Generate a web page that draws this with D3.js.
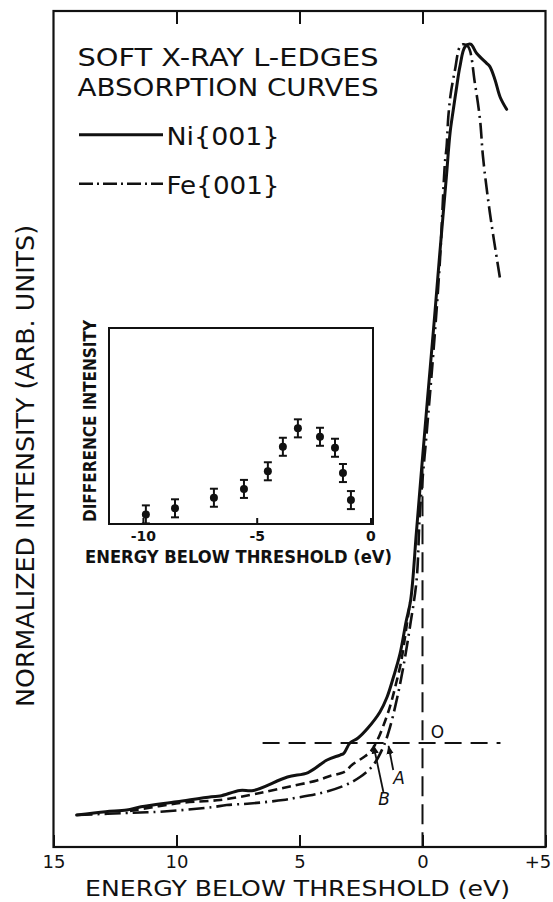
<!DOCTYPE html>
<html><head><meta charset="utf-8">
<script src="https://cdn.jsdelivr.net/npm/d3@7"></script>
<style>body{margin:0;background:#fff}svg{display:block}</style>
</head><body>
<svg id="c" width="553" height="902"></svg>
<script>
// ---------- data ----------
const xTickValues = [15, 10, 5, 0, -5];
const xTickLabels = ["15", "10", "5", "0", "+5"];
const titleLines = ["SOFT X-RAY L-EDGES", "ABSORPTION CURVES"];
const legendLabels = ["Ni{001}", "Fe{001}"];

// Ni{001} absorption (solid)
const niEnergy = [14.06,12.88,12.02,11.44,9.99,8.58,8.23,7.42,6.87,5.49,4.65,3.88,3.35,3.20,2.95,2.62,2.22,1.73,1.44,1.18,0.91,0.67,0.48,0.25,0.05,-0.20,-0.47,-0.69,-0.83,-0.97,-1.12,-1.25,-1.39,-1.52,-1.73,-1.96,-2.20,-2.61,-2.74,-2.95,-3.15,-3.42];
const niIntensity = [3.83,4.22,4.43,4.82,5.42,6.02,6.10,6.76,6.76,8.37,8.91,10.41,11.0,11.21,12.44,13.04,14.23,16.15,17.94,20.33,23.15,26.91,29.55,37.56,44.74,53.47,62.68,70.57,75.36,80.14,85.41,88.16,90.95,93.34,95.73,96.02,94.94,93.74,93.34,91.75,89.75,88.24];

// Fe{001} absorption (dash-dot)
const feEnergy = [14.06,11.76,10.67,8.58,7.96,7.01,5.67,5.25,4.29,3.22,2.54,2.0,1.59,1.32,1.05,0.78,0.51,0.24,0.10,-0.18,-0.45,-0.71,-0.91,-0.98,-1.05,-1.15,-1.32,-1.52,-1.66,-1.86,-2.13,-2.34,-2.46,-2.74,-3.15];
const feIntensity = [3.83,4.10,4.22,4.75,5.02,5.2,5.62,5.83,6.34,7.30,8.37,9.81,12.0,14.35,17.58,21.53,26.35,31.94,40.31,49.88,59.45,70.2,81.8,83.77,87.36,90.15,92.94,95.73,96.02,95.73,91.35,86.96,82.54,75.84,68.03];

// intermediate curve (dashed)
const midEnergy = [11.89,9.86,8.23,7.01,6.40,5.39,4.29,3.76,3.15,2.87,2.41,2.13,1.89,1.52,1.28,1.08,0.87,0.67,0.51];
const midIntensity = [4.31,5.26,5.62,6.22,6.58,7.24,7.96,8.49,9.03,9.81,10.71,11.36,12.44,15.07,17.22,19.50,22.13,25.96,29.19];

// reference lines
const hLineEnergy = [6.5, -3.17];
const hLineIntensity = 12.44;
const vLineEnergy = 0;
const vLineIntensity = [45.3, 0];

// annotations
const arrowNames = ["A", "B"];
const arrowFromE = [1.19, 1.59];
const arrowFromI = [9.21, 6.58];
const arrowToE = [1.38, 1.99];
const arrowToI = [12.08, 12.14];
const arrowLabelE = [0.955, 1.565];
const arrowLabelI = [8.25, 5.74];
const originLabel = "O";
const originE = -0.61, originI = 13.79;

// inset: difference intensity
const insetEnergy = [-9.87,-8.59,-6.88,-5.56,-4.51,-3.85,-3.19,-2.22,-1.56,-1.21,-0.86];
const insetDiff = [0.49,0.80,1.34,1.79,2.69,3.94,4.88,4.45,3.89,2.60,1.22];
const insetErr = [0.46,0.46,0.46,0.46,0.46,0.46,0.46,0.46,0.46,0.46,0.46];
const insetTickValues = [-10, -5, 0];
const insetTickLabels = ["-10", "-5", "0"];

// ---------- drawing ----------
(function draw() {
const svg = d3.select("#c");
const FONT = "'DejaVu Sans', sans-serif";
const INK = "#111";

const x = d3.scaleLinear().domain([15, -5]).range([53.5, 545.5]);
const y = d3.scaleLinear().domain([0, 100]).range([847, 11]);

// frame
svg.append("rect")
  .attr("x", x(15)).attr("y", y(100))
  .attr("width", x(-5) - x(15)).attr("height", y(0) - y(100))
  .attr("fill", "none").attr("stroke", INK).attr("stroke-width", 2.2);

// bottom axis
const bottomAxis = svg.append("g").attr("transform", `translate(0,${y(0)})`)
  .call(d3.axisBottom(x).tickValues(xTickValues).tickSize(-12).tickPadding(8)
    .tickFormat((d, i) => xTickLabels[i]));
bottomAxis.select(".domain").remove();
bottomAxis.selectAll("line").attr("stroke", INK).attr("stroke-width", 2);
bottomAxis.selectAll("text").attr("font-family", FONT).attr("font-size", 18).attr("fill", INK)
  .attr("dx", (d) => d === -5 ? -8 : 0);

// top axis
const topAxis = svg.append("g").attr("transform", `translate(0,${y(100)})`)
  .call(d3.axisTop(x).tickValues([10, 5, 0]).tickSize(-13).tickFormat(""));
topAxis.select(".domain").remove();
topAxis.selectAll("line").attr("stroke", INK).attr("stroke-width", 2);

// axis titles
svg.append("text").attr("x", 85).attr("y", 896)
  .attr("font-family", FONT).attr("font-size", 21).attr("fill", INK)
  .attr("textLength", 425).attr("lengthAdjust", "spacingAndGlyphs")
  .text("ENERGY BELOW THRESHOLD (eV)");
svg.append("text").attr("transform", "translate(34,466) rotate(-90)")
  .attr("text-anchor", "middle")
  .attr("font-family", FONT).attr("font-size", 25).attr("fill", INK)
  .attr("textLength", 482).attr("lengthAdjust", "spacingAndGlyphs")
  .text("NORMALIZED INTENSITY (ARB. UNITS)");

// title block
const titleBase = [65.5, 95.5];
titleLines.forEach((t, i) => {
  svg.append("text").attr("x", 77.5).attr("y", titleBase[i])
    .attr("font-family", FONT).attr("font-size", 25).attr("fill", INK)
    .attr("textLength", 301).attr("lengthAdjust", "spacingAndGlyphs").text(t);
});

// legend
const legendY = [134.8, 183.7];
const legendDash = [null, "14,4,2,4"];
legendLabels.forEach((t, i) => {
  svg.append("line").attr("x1", 79).attr("x2", 163).attr("y1", legendY[i]).attr("y2", legendY[i])
    .attr("stroke", INK).attr("stroke-width", i === 0 ? 3 : 2.6)
    .attr("stroke-dasharray", legendDash[i]);
  svg.append("text").attr("x", 166.5).attr("y", legendY[i] + 10)
    .attr("font-family", FONT).attr("font-size", 25).attr("fill", INK)
    .attr("textLength", 113).attr("lengthAdjust", "spacingAndGlyphs").text(t);
});

// curves
const lineGen = d3.line().x(d => x(d[0])).y(d => y(d[1])).curve(d3.curveCatmullRom.alpha(0.5));
const niData = niEnergy.map((e, i) => [e, niIntensity[i]]);
const feData = feEnergy.map((e, i) => [e, feIntensity[i]]);
const midData = midEnergy.map((e, i) => [e, midIntensity[i]]);

svg.append("path").datum(midData).attr("d", lineGen)
  .attr("fill", "none").attr("stroke", INK).attr("stroke-width", 2.6)
  .attr("stroke-dasharray", "9,5");
svg.append("path").datum(feData).attr("d", lineGen)
  .attr("fill", "none").attr("stroke", INK).attr("stroke-width", 2.6)
  .attr("stroke-dasharray", "16,5,2,5");
svg.append("path").datum(niData).attr("d", lineGen)
  .attr("fill", "none").attr("stroke", INK).attr("stroke-width", 3)
  .attr("stroke-linejoin", "round").attr("stroke-linecap", "round");

// reference dashed lines
svg.append("line")
  .attr("x1", x(hLineEnergy[0])).attr("x2", x(hLineEnergy[1]))
  .attr("y1", y(hLineIntensity)).attr("y2", y(hLineIntensity))
  .attr("stroke", INK).attr("stroke-width", 2).attr("stroke-dasharray", "17,9");
svg.append("line")
  .attr("x1", x(vLineEnergy)).attr("x2", x(vLineEnergy))
  .attr("y1", y(vLineIntensity[0])).attr("y2", y(vLineIntensity[1]))
  .attr("stroke", INK).attr("stroke-width", 2).attr("stroke-dasharray", "20,8");

// arrows
svg.append("defs").append("marker").attr("id", "arr")
  .attr("viewBox", "0 0 10 10").attr("refX", 9).attr("refY", 5)
  .attr("markerWidth", 9).attr("markerHeight", 9).attr("markerUnits", "userSpaceOnUse")
  .attr("orient", "auto")
  .append("path").attr("d", "M0,1 L10,5 L0,9 Z").attr("fill", INK);
arrowNames.forEach((n, i) => {
  svg.append("line")
    .attr("x1", x(arrowFromE[i])).attr("y1", y(arrowFromI[i]))
    .attr("x2", x(arrowToE[i])).attr("y2", y(arrowToI[i]))
    .attr("stroke", INK).attr("stroke-width", 1.8).attr("marker-end", "url(#arr)");
  svg.append("text").attr("x", x(arrowLabelE[i])).attr("y", y(arrowLabelI[i]))
    .attr("dy", "0.36em").attr("text-anchor", "middle")
    .attr("font-family", FONT).attr("font-size", 17).attr("font-style", "italic").attr("fill", INK)
    .text(n);
});
svg.append("text").attr("x", x(originE)).attr("y", y(originI)).attr("dy", "0.36em")
  .attr("text-anchor", "middle").attr("font-family", FONT).attr("font-size", 17).attr("fill", INK)
  .text(originLabel);

// ---------- inset ----------
const xi = d3.scaleLinear().domain([-11.49, 0.11]).range([109, 373]);
const yi = d3.scaleLinear().domain([0, 10]).range([524, 328]);

svg.append("rect").attr("x", xi(-11.49)).attr("y", yi(10))
  .attr("width", xi(0.11) - xi(-11.49)).attr("height", yi(0) - yi(10))
  .attr("fill", "none").attr("stroke", INK).attr("stroke-width", 2);

const ib = svg.append("g").attr("transform", `translate(0,${yi(0)})`)
  .call(d3.axisBottom(xi).tickValues(insetTickValues).tickSize(-6).tickPadding(7)
    .tickFormat((d, i) => insetTickLabels[i]));
ib.select(".domain").remove();
ib.selectAll("line").attr("stroke", INK).attr("stroke-width", 2);
ib.selectAll("text").attr("font-family", FONT).attr("font-size", 14).attr("font-weight", "bold").attr("fill", INK);

svg.append("text").attr("x", 85).attr("y", 563)
  .attr("font-family", FONT).attr("font-size", 17).attr("font-weight", "bold").attr("fill", INK)
  .attr("textLength", 307).attr("lengthAdjust", "spacingAndGlyphs")
  .text("ENERGY BELOW THRESHOLD (eV)");
svg.append("text").attr("transform", "translate(96,421) rotate(-90)")
  .attr("text-anchor", "middle")
  .attr("font-family", FONT).attr("font-size", 17).attr("font-weight", "bold").attr("fill", INK)
  .attr("textLength", 202).attr("lengthAdjust", "spacingAndGlyphs")
  .text("DIFFERENCE INTENSITY");

const pts = insetEnergy.map((e, i) => ({e, v: insetDiff[i], err: insetErr[i]}));
const gi = svg.append("g").attr("stroke", INK).attr("fill", INK);
gi.selectAll(".eb").data(pts).join("line").attr("class", "eb")
  .attr("x1", d => xi(d.e)).attr("x2", d => xi(d.e))
  .attr("y1", d => yi(d.v - d.err)).attr("y2", d => yi(d.v + d.err)).attr("stroke-width", 2);
gi.selectAll(".capT").data(pts).join("line").attr("class", "capT")
  .attr("x1", d => xi(d.e) - 4).attr("x2", d => xi(d.e) + 4)
  .attr("y1", d => yi(d.v + d.err)).attr("y2", d => yi(d.v + d.err)).attr("stroke-width", 2);
gi.selectAll(".capB").data(pts).join("line").attr("class", "capB")
  .attr("x1", d => xi(d.e) - 4).attr("x2", d => xi(d.e) + 4)
  .attr("y1", d => yi(d.v - d.err)).attr("y2", d => yi(d.v - d.err)).attr("stroke-width", 2);
gi.selectAll("circle").data(pts).join("circle")
  .attr("cx", d => xi(d.e)).attr("cy", d => yi(d.v)).attr("r", 4).attr("stroke", "none");
})();
</script>
</body></html>
